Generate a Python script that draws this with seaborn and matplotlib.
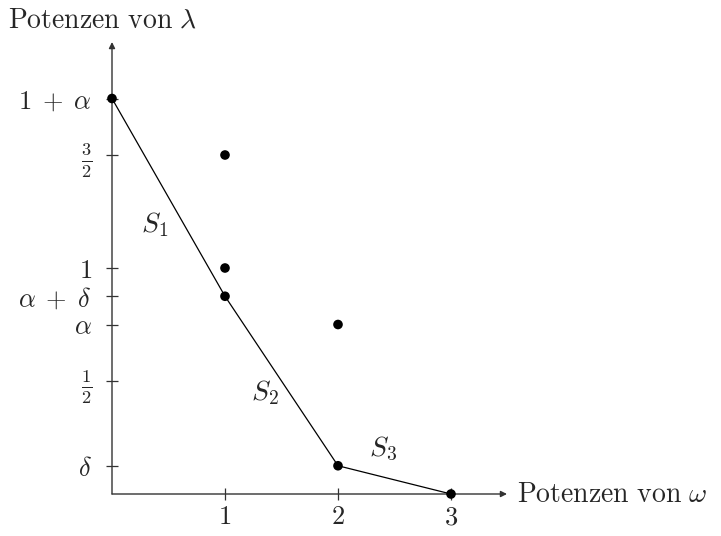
import matplotlib
matplotlib.use("Agg")
import matplotlib.pyplot as plt
import seaborn as sns
import pandas as pd

sns.set_theme(style="white")
plt.rcParams["mathtext.fontset"] = "cm"
plt.rcParams["font.family"] = ["DejaVu Serif"]

alpha = 0.75
delta = 0.125

# exponent pairs (power of omega, power of lambda)
point_x = [0, 1, 1, 1, 2, 2, 3]
point_y = [1 + alpha, 1.5, 1.0, alpha + delta, alpha, delta, 0.0]

# lower convex hull vertices
hull_x = [0, 1, 2, 3]
hull_y = [1 + alpha, alpha + delta, delta, 0.0]

x_ticks = [1, 2, 3]
x_tick_labels = [r"$1$", r"$2$", r"$3$"]
y_ticks = [delta, 0.5, alpha, alpha + delta, 1.0, 1.5, 1 + alpha]
y_tick_labels = [r"$\delta$", r"$\frac{1}{2}$", r"$\alpha$", r"$\alpha\;+\;\delta$",
                 r"$1$", r"$\frac{3}{2}$", r"$1\;+\;\alpha$"]

segment_labels = [r"$S_1$", r"$S_2$", r"$S_3$"]
segment_label_x = [0.38, 1.35, 2.4]
segment_label_y = [1.19, 0.45, 0.2]

W, H = 721, 536
fig = plt.figure(figsize=(W / 100, H / 100), dpi=100)
x0, x1 = 112, 507
y0, y1 = 494, 42
ax = fig.add_axes([x0 / W, 1 - y0 / H, (x1 - x0) / W, (y0 - y1) / H])
ax.set_xlim(0, (x1 - x0) / 113)
ax.set_ylim(0, (y0 - y1) / 226)

hull = pd.DataFrame({"x": hull_x, "y": hull_y})
pts = pd.DataFrame({"x": point_x, "y": point_y})
sns.lineplot(data=hull, x="x", y="y", sort=False, color="black", linewidth=0.9,
             ax=ax, zorder=3)
sns.scatterplot(data=pts, x="x", y="y", color="black", s=48, edgecolor="none",
                ax=ax, zorder=4, clip_on=False)

for s in ax.spines.values():
    s.set_visible(False)

axis_col = "#333333"
ax.annotate("", xy=(1, 0), xytext=(0, 0), xycoords="axes fraction",
            arrowprops=dict(arrowstyle="-|>", color=axis_col, lw=1.0,
                            mutation_scale=9, shrinkA=0, shrinkB=0))
ax.annotate("", xy=(0, 1), xytext=(0, 0), xycoords="axes fraction",
            arrowprops=dict(arrowstyle="-|>", color=axis_col, lw=1.0,
                            mutation_scale=9, shrinkA=0, shrinkB=0))

ax.set_xticks(x_ticks)
ax.set_xticklabels(x_tick_labels, fontsize=19)
ax.set_yticks(y_ticks)
ax.set_yticklabels(y_tick_labels, fontsize=19)
ax.tick_params(axis="both", direction="inout", length=9, width=0.9,
               color=axis_col, pad=3, bottom=True, left=True)
ax.tick_params(axis="y", pad=10)
ax.set_xlabel("")
ax.set_ylabel("")

for lab, lx, ly in zip(segment_labels, segment_label_x, segment_label_y):
    ax.text(lx, ly, lab, fontsize=20, ha="center", va="center")

fig.text(8 / W, 1 - 20 / H, r"$\mathrm{Potenzen\ von}\ \lambda$", fontsize=20,
         ha="left", va="center")
fig.text(517 / W, 1 - 494 / H, r"$\mathrm{Potenzen\ von}\ \omega$", fontsize=20,
         ha="left", va="center")

fig.savefig("out.png", dpi=100)
